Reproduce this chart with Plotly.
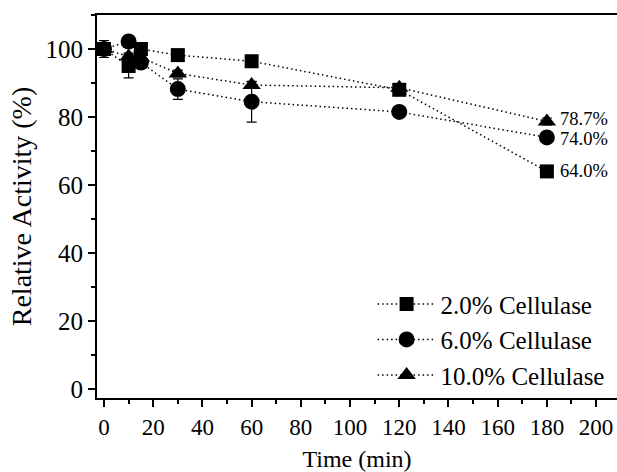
import plotly.graph_objects as go

time_min = [0, 10, 15, 30, 60, 120, 180]
act_2 = [100, 95.0, 100.0, 98.2, 96.4, 88.0, 64.0]
act_6 = [100, 102.2, 96.0, 88.2, 84.5, 81.5, 74.0]
act_10 = [100, 97.8, 97.5, 92.8, 89.4, 88.6, 78.7]
err_2 = [1.5, 3.5, 1.0, 1.0, 1.0, 1.0, 1.0]
err_6 = [1.5, 1.0, 1.5, 3.0, 6.0, 1.0, 1.0]
err_10 = [2.5, 1.0, 1.0, 1.0, 1.0, 1.0, 1.0]
series_names = ["2.0% Cellulase", "6.0% Cellulase", "10.0% Cellulase"]
end_labels = ["64.0%", "74.0%", "78.7%"]
label_shift = [0, -2, 2]
x_ticks = [0, 20, 40, 60, 80, 100, 120, 140, 160, 180, 200]
y_ticks = [0, 20, 40, 60, 80, 100]

FONT = "Liberation Serif, Times New Roman, serif"

fig = go.Figure()
series = [
    (act_2, err_2, "square", 14),
    (act_6, err_6, "circle", 16),
    (act_10, err_10, "triangle-up", 16),
]
for (vals, errs, sym, size), name in zip(series, series_names):
    fig.add_trace(go.Scatter(
        x=time_min, y=vals, name=name, mode="lines+markers",
        line=dict(color="black", width=1.5, dash="1.5px,3px"),
        marker=dict(symbol=sym, size=size, color="black"),
        error_y=dict(type="data", array=errs, visible=True, color="black",
                     thickness=1.2, width=5),
    ))

for vals, lab, sh in zip([act_2, act_6, act_10], end_labels, label_shift):
    fig.add_annotation(x=time_min[-1], y=vals[-1], text=lab, showarrow=False,
                       xref="x", yref="y", xanchor="left", yanchor="middle",
                       xshift=11, yshift=sh,
                       font=dict(family=FONT, size=18.5, color="black"))

axis_common = dict(
    showline=True, linecolor="black", linewidth=2, showgrid=False, zeroline=False,
    ticks="outside", ticklen=7, tickwidth=2, tickcolor="black",
)
fig.update_xaxes(
    range=[-2.85, 208.5], tickvals=x_ticks, mirror=True,
    tickfont=dict(family=FONT, size=23, color="black"),
    minor=dict(ticks="outside", ticklen=4, tickwidth=2, tickcolor="black", dtick=10, tick0=0),
    title=dict(text="Time (min)", font=dict(family=FONT, size=24, color="black"), standoff=14),
    **axis_common,
)
fig.update_yaxes(
    range=[-2.65, 110], tickvals=y_ticks,
    tickfont=dict(family=FONT, size=25, color="black"),
    minor=dict(ticks="outside", ticklen=4, tickwidth=2, tickcolor="black", dtick=10, tick0=0),
    title=dict(text="Relative Activity (%)", font=dict(family=FONT, size=28, color="black"), standoff=6),
    **axis_common,
)
fig.update_layout(
    width=617, height=472,
    margin=dict(l=97, r=0, t=15, b=74),
    paper_bgcolor="white", plot_bgcolor="white",
    font=dict(family=FONT, color="black"),
    legend=dict(x=0.53, y=0.305, xanchor="left", yanchor="top",
                font=dict(family=FONT, size=25, color="black"),
                bgcolor="rgba(0,0,0,0)", tracegroupgap=0, itemwidth=58),
    showlegend=True,
)
fig.write_html("out.html")
